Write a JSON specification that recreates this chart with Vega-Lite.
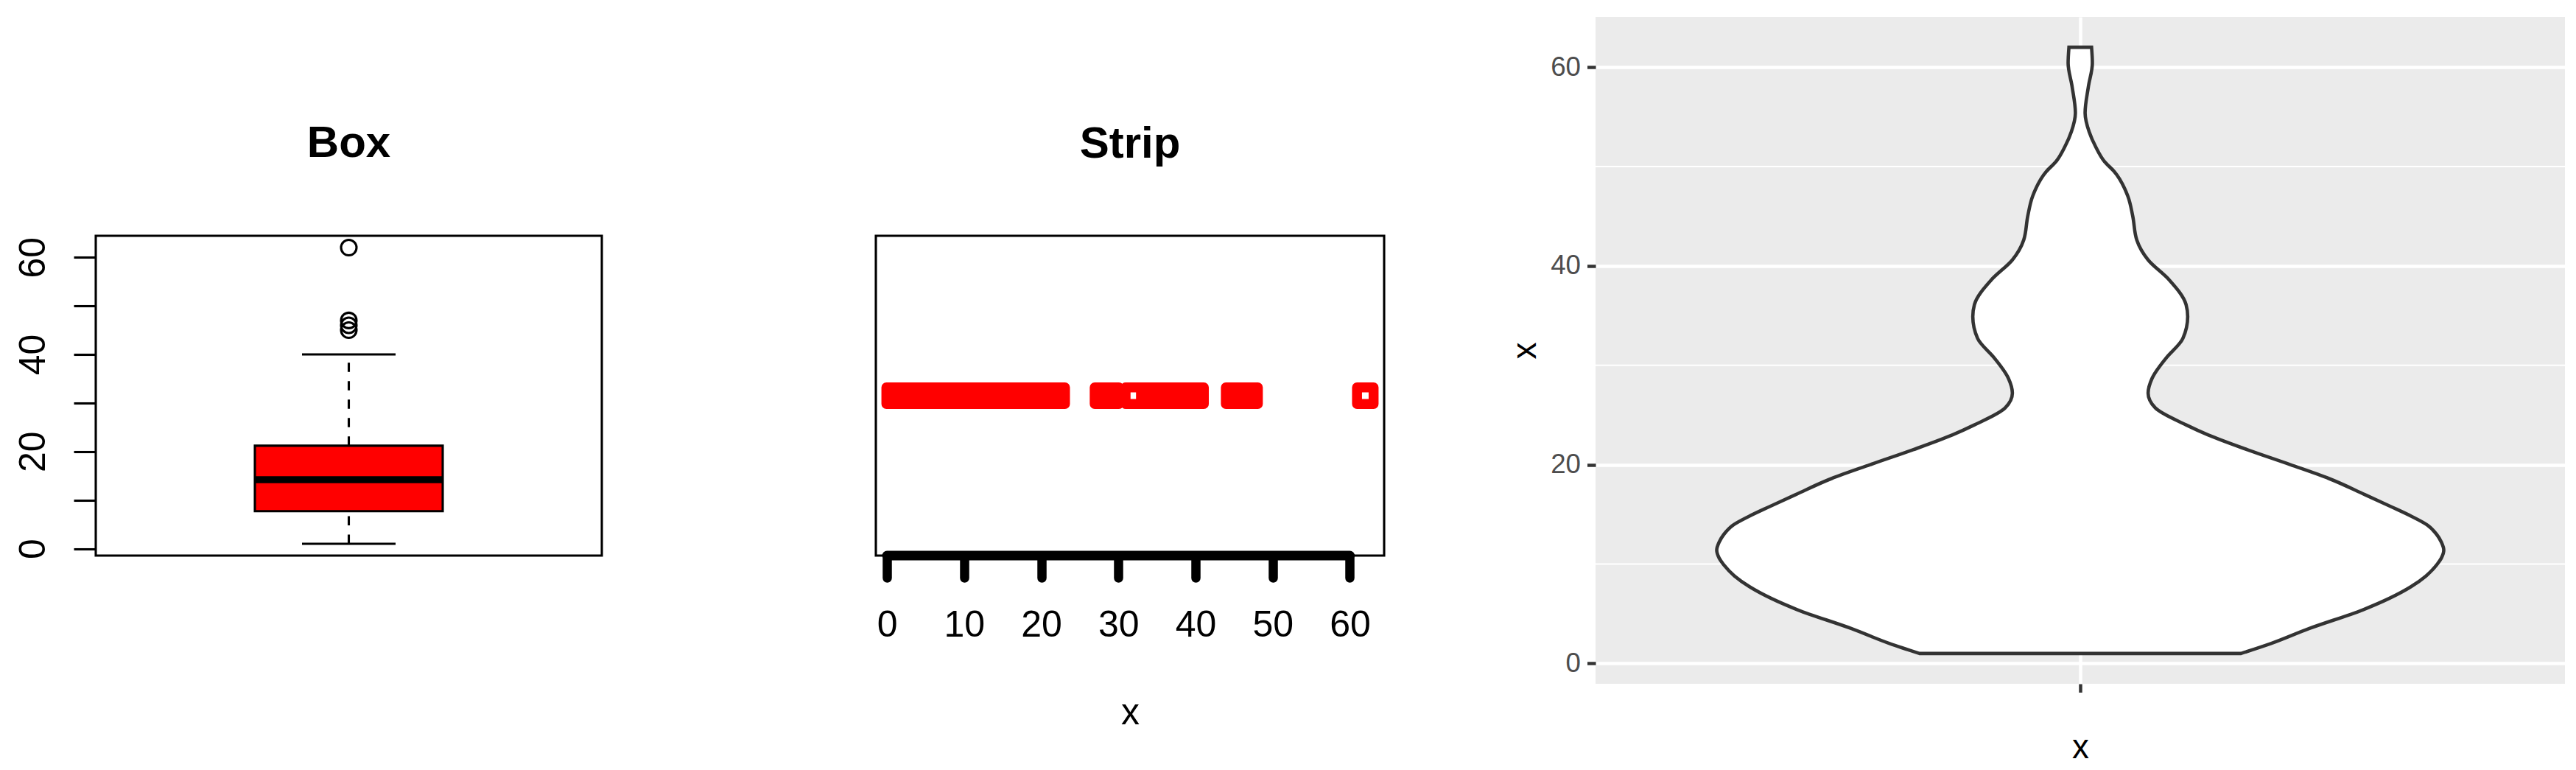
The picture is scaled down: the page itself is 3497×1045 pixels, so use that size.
{
  "$schema": "https://vega.github.io/schema/vega-lite/v6.json",
  "background": "white",
  "padding": {"left": 18, "top": 23, "right": 0, "bottom": 0},
  "config": {"font": "Liberation Sans", "view": {"stroke": null}},
  "spacing": 166,
  "hconcat": [
    {
      "spacing": 0,
      "vconcat": [
        {"width": 1, "height": 140, "data": {"values": []}, "mark": "point"},
        {
          "spacing": 368,
          "hconcat": [
            {
              "width": 687,
              "height": 434,
              "view": {"stroke": "black", "strokeWidth": 3.1},
              "title": {"text": "Box", "fontSize": 60, "fontWeight": "bold", "color": "black", "anchor": "middle", "baseline": "bottom", "offset": 33},
              "data": {"values": [{"g": 1, "lower": 1, "q1": 7.7, "median": 14.2, "q3": 21.2, "upper": 40}]},
              "encoding": {"x": {"field": "g", "type": "quantitative", "scale": {"domain": [0.46, 1.54], "nice": false, "zero": false}, "axis": null}},
              "layer": [
                {
                  "mark": {"type": "rule", "strokeDash": [12.5, 12.5], "strokeWidth": 3.1, "color": "black"},
                  "encoding": {
                    "y": {"field": "q3", "type": "quantitative", "scale": {"domain": [-1.44, 64.44], "nice": false, "zero": false},
                      "axis": {"values": [0, 10, 20, 30, 40, 50, 60], "labelExpr": "datum.value % 20 === 0 ? datum.label : ''", "grid": false, "domain": false, "tickSize": 30, "tickWidth": 3.1, "tickColor": "black", "labelAngle": -90, "labelAlign": "center", "labelBaseline": "alphabetic", "labelFontSize": 50, "labelColor": "black", "labelPadding": 40, "labelOverlap": false, "labelFlush": false, "title": null}},
                    "y2": {"field": "upper"}
                  }
                },
                {
                  "mark": {"type": "rule", "strokeDash": [12.5, 12.5], "strokeWidth": 3.1, "color": "black"},
                  "encoding": {"y": {"field": "lower", "type": "quantitative"}, "y2": {"field": "q1"}}
                },
                {
                  "mark": {"type": "bar", "size": 255, "fill": "red", "stroke": "black", "strokeWidth": 3.1},
                  "encoding": {"y": {"field": "q1", "type": "quantitative"}, "y2": {"field": "q3"}}
                },
                {
                  "mark": {"type": "tick", "orient": "horizontal", "size": 255, "thickness": 9.4, "color": "black", "opacity": 1},
                  "encoding": {"y": {"field": "median", "type": "quantitative"}}
                },
                {
                  "mark": {"type": "tick", "orient": "horizontal", "size": 127, "thickness": 3.1, "color": "black", "opacity": 1},
                  "encoding": {"y": {"field": "upper", "type": "quantitative"}}
                },
                {
                  "mark": {"type": "tick", "orient": "horizontal", "size": 127, "thickness": 3.1, "color": "black", "opacity": 1},
                  "encoding": {"y": {"field": "lower", "type": "quantitative"}}
                },
                {
                  "data": {"values": [{"g": 1, "v": 45}, {"g": 1, "v": 46}, {"g": 1, "v": 47}, {"g": 1, "v": 62}]},
                  "mark": {"type": "point", "shape": "circle", "filled": false, "stroke": "black", "strokeWidth": 3.1, "size": 441, "opacity": 1},
                  "encoding": {"y": {"field": "v", "type": "quantitative"}}
                }
              ]
            },
            {
              "width": 690,
              "height": 434,
              "view": {"stroke": "black", "strokeWidth": 3.1},
              "title": {"text": "Strip", "fontSize": 60, "fontWeight": "bold", "color": "black", "anchor": "middle", "baseline": "bottom", "offset": 33},
              "layer": [
                {
                  "data": {"values": [{"a": 0, "b": 60}]},
                  "mark": {"type": "rule", "strokeWidth": 13, "strokeCap": "round", "color": "black"},
                  "encoding": {
                    "x": {"field": "a", "type": "quantitative", "scale": {"domain": [-1.44, 64.44], "nice": false, "zero": false},
                      "axis": {"values": [0, 10, 20, 30, 40, 50, 60], "domain": false, "grid": false, "tickSize": 30, "tickWidth": 12.5, "tickCap": "round", "tickColor": "black", "labelFontSize": 50, "labelColor": "black", "labelPadding": 79, "labelBaseline": "alphabetic", "labelFlush": false, "labelOverlap": false, "title": "x", "titleFontSize": 50, "titleFontWeight": "normal", "titleColor": "black", "titleBaseline": "alphabetic", "titleY": 228}},
                    "x2": {"field": "b"},
                    "y": {"datum": 0, "type": "quantitative", "scale": {"domain": [0, 2], "nice": false, "zero": false}, "axis": null}
                  }
                },
                {
                  "data": {"values": [
                    {"v": 1}, {"v": 2}, {"v": 3}, {"v": 4}, {"v": 5}, {"v": 6}, {"v": 7}, {"v": 8}, {"v": 9}, {"v": 10},
                    {"v": 11}, {"v": 12}, {"v": 13}, {"v": 14}, {"v": 15}, {"v": 16}, {"v": 17}, {"v": 18}, {"v": 19}, {"v": 20},
                    {"v": 21}, {"v": 22}, {"v": 28}, {"v": 29}, {"v": 32}, {"v": 34}, {"v": 35}, {"v": 36}, {"v": 37}, {"v": 38},
                    {"v": 39}, {"v": 40}, {"v": 45}, {"v": 46}, {"v": 47}, {"v": 62}
                  ]},
                  "mark": {"type": "point", "shape": "square", "filled": false, "stroke": "red", "strokeWidth": 13.5, "strokeJoin": "round", "size": 506, "opacity": 1},
                  "encoding": {
                    "x": {"field": "v", "type": "quantitative"},
                    "y": {"datum": 1, "type": "quantitative", "axis": null}
                  }
                }
              ]
            }
          ]
        }
      ]
    },
    {
      "width": 1316,
      "height": 905,
      "view": {"fill": "#EBEBEB", "stroke": null},
      "layer": [
        {
          "data": {"values": [{"m": 10}, {"m": 30}, {"m": 50}]},
          "mark": {"type": "rule", "color": "white", "strokeWidth": 2.2},
          "encoding": {"y": {"field": "m", "type": "quantitative"}}
        },
        {
          "data": {"values": [
            {"v": 1.0, "lo": 0.801, "hi": 1.199},
            {"v": 2.0, "lo": 0.764, "hi": 1.236},
            {"v": 3.5, "lo": 0.717, "hi": 1.283},
            {"v": 5.4, "lo": 0.650, "hi": 1.350},
            {"v": 7.7, "lo": 0.591, "hi": 1.409},
            {"v": 8.8, "lo": 0.572, "hi": 1.428},
            {"v": 9.9, "lo": 0.559, "hi": 1.441},
            {"v": 10.6, "lo": 0.553, "hi": 1.447},
            {"v": 11.4, "lo": 0.550, "hi": 1.450},
            {"v": 12.2, "lo": 0.553, "hi": 1.447},
            {"v": 13.0, "lo": 0.559, "hi": 1.441},
            {"v": 13.9, "lo": 0.570, "hi": 1.430},
            {"v": 14.8, "lo": 0.590, "hi": 1.410},
            {"v": 15.8, "lo": 0.616, "hi": 1.384},
            {"v": 17.0, "lo": 0.648, "hi": 1.352},
            {"v": 18.6, "lo": 0.692, "hi": 1.308},
            {"v": 20.0, "lo": 0.740, "hi": 1.260},
            {"v": 21.5, "lo": 0.793, "hi": 1.207},
            {"v": 23.0, "lo": 0.842, "hi": 1.158},
            {"v": 24.0, "lo": 0.869, "hi": 1.131},
            {"v": 25.7, "lo": 0.907, "hi": 1.093},
            {"v": 27.2, "lo": 0.916, "hi": 1.084},
            {"v": 28.7, "lo": 0.911, "hi": 1.089},
            {"v": 30.7, "lo": 0.894, "hi": 1.106},
            {"v": 32.7, "lo": 0.873, "hi": 1.127},
            {"v": 34.9, "lo": 0.867, "hi": 1.133},
            {"v": 36.1, "lo": 0.869, "hi": 1.131},
            {"v": 38.6, "lo": 0.890, "hi": 1.110},
            {"v": 40.6, "lo": 0.916, "hi": 1.084},
            {"v": 42.6, "lo": 0.930, "hi": 1.070},
            {"v": 45.0, "lo": 0.935, "hi": 1.065},
            {"v": 47.0, "lo": 0.941, "hi": 1.059},
            {"v": 49.5, "lo": 0.958, "hi": 1.042},
            {"v": 50.5, "lo": 0.970, "hi": 1.030},
            {"v": 52.0, "lo": 0.981, "hi": 1.019},
            {"v": 53.5, "lo": 0.989, "hi": 1.011},
            {"v": 55.4, "lo": 0.994, "hi": 1.006},
            {"v": 58.0, "lo": 0.990, "hi": 1.010},
            {"v": 60.4, "lo": 0.985, "hi": 1.015},
            {"v": 62.0, "lo": 0.986, "hi": 1.014}
          ]},
          "mark": {"type": "area", "orient": "horizontal", "interpolate": "monotone", "fill": "white", "stroke": "#333333", "strokeWidth": 4.6, "opacity": 1},
          "encoding": {
            "y": {"field": "v", "type": "quantitative", "scale": {"domain": [-2.05, 65.05], "nice": false, "zero": false},
              "axis": {"values": [0, 20, 40, 60], "grid": true, "gridColor": "white", "gridWidth": 4.45, "domain": false, "tickColor": "#333333", "tickSize": 11.5, "tickWidth": 4.45, "labelFontSize": 36.7, "labelColor": "#4D4D4D", "labelPadding": 9, "title": "x", "titleFontSize": 45.8, "titleFontWeight": "normal", "titleColor": "black", "titleBaseline": "alphabetic", "titleX": -82}},
            "x": {"field": "lo", "type": "quantitative", "scale": {"domain": [0.4, 1.6], "nice": false, "zero": false},
              "axis": {"values": [1], "grid": true, "gridColor": "white", "gridWidth": 4.45, "domain": false, "tickColor": "#333333", "tickSize": 11.5, "tickWidth": 4.45, "labels": false, "title": "x", "titleFontSize": 45.8, "titleFontWeight": "normal", "titleColor": "black", "titleBaseline": "alphabetic", "titleY": 100}},
            "x2": {"field": "hi"}
          }
        }
      ]
    }
  ]
}
